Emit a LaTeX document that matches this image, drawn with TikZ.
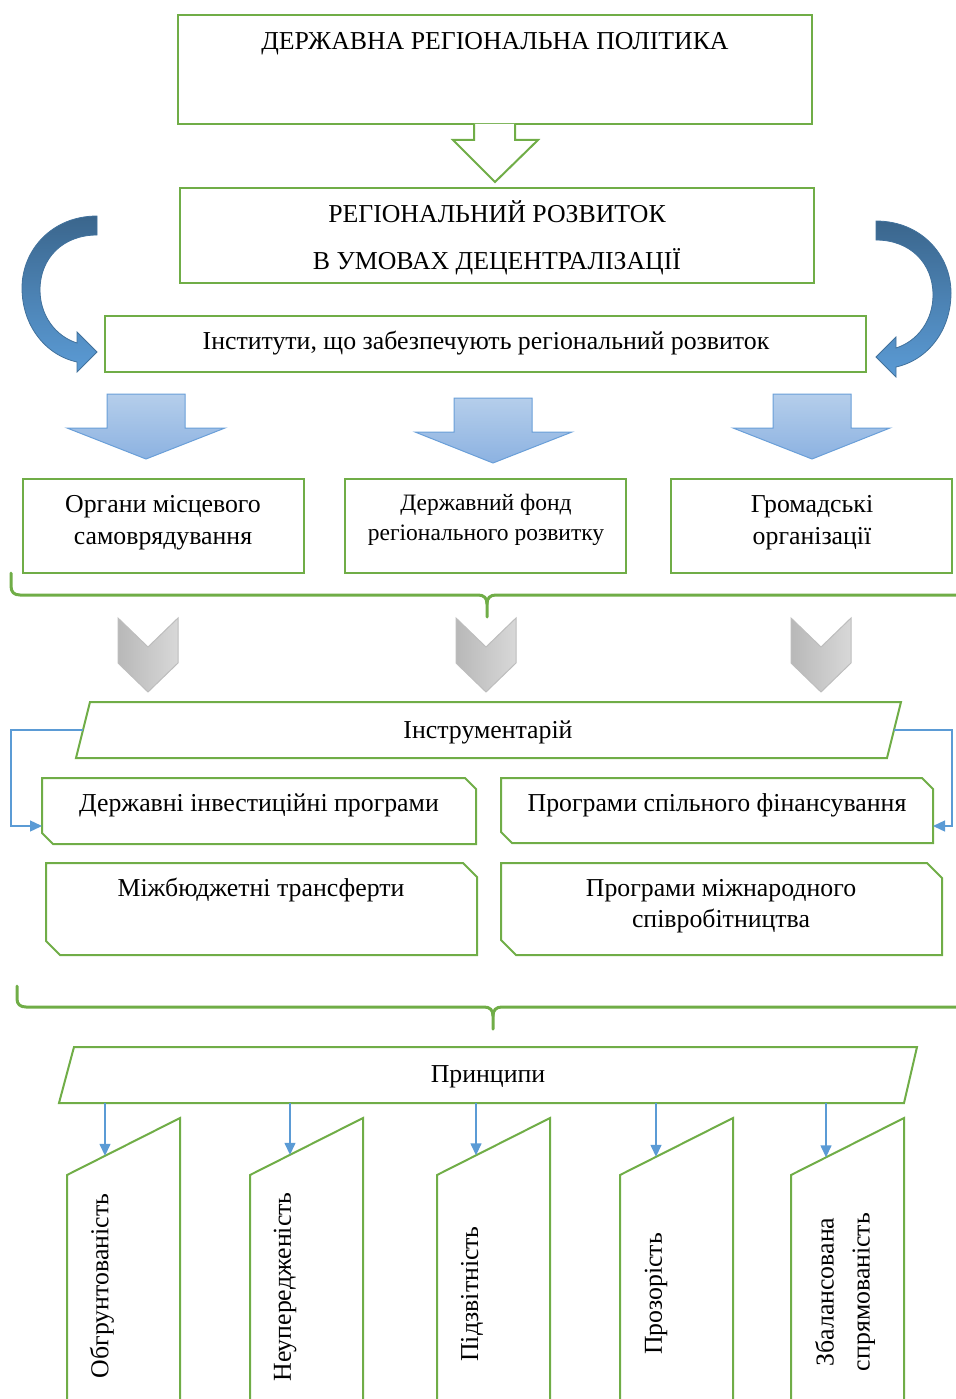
\documentclass[tikz,border=0pt]{standalone}
\usepackage{fontspec}
\setmainfont{Liberation Serif}
\usetikzlibrary{arrows.meta}
\definecolor{grn}{HTML}{70AD47}
\definecolor{cnblue}{HTML}{5B9BD5}
\definecolor{darkB}{HTML}{41719C}
\definecolor{midB}{HTML}{5B9BD5}
\definecolor{lightTop}{HTML}{B5CEEB}
\definecolor{lightBot}{HTML}{8CB2E1}
\definecolor{arrEdge}{HTML}{6A9FD8}
\definecolor{grayL}{HTML}{B8B8B8}
\definecolor{grayR}{HTML}{D8D8D8}
\definecolor{grayE}{HTML}{BDBDBD}
\tikzset{
  gbox/.style={draw=grn, line width=2pt, line join=miter},
  txt/.style={font=\fontsize{25.8}{30}\selectfont, align=center, inner sep=0pt, text=black},
  cn/.style={draw=cnblue, line width=1.4pt, -{Triangle[length=12pt,width=11pt]}},
  gbrace/.style={draw=grn, line width=3pt, line cap=round, line join=round},
  blockarrow/.style={draw=arrEdge, line width=1pt, top color=lightTop, bottom color=lightBot},
  chevron/.style={draw=grayE, line width=1pt, left color=grayL, right color=grayR},
  curvedarrow/.style={draw=darkB, line width=0.8pt, top color=darkB!90!black, bottom color=midB, middle color=darkB!60!midB}
}
\begin{document}
\begin{tikzpicture}[x=1pt,y=-1pt]
\useasboundingbox (0,0) rectangle (955,1399);

% top box and hollow arrow
\draw[gbox] (178,15) rectangle (812,124);
\node[txt] (t1) at (495,44) {ДЕРЖАВНА РЕГІОНАЛЬНА ПОЛІТИКА};
\draw[gbox, fill=white] (474,124) -- (474,140) -- (453,140) -- (495,182) -- (538,140) -- (515,140) -- (515,124);

% second box
\draw[gbox] (180,188) rectangle (814,283);
\node[txt, font=\fontsize{25.8}{47}\selectfont] (t2) at (497,237.5) {РЕГІОНАЛЬНИЙ РОЗВИТОК\\В УМОВАХ ДЕЦЕНТРАЛІЗАЦІЇ};

% curved arrows
\path[curvedarrow] (97,216) .. controls (52,216) and (22,250) .. (22,288)
   .. controls (22,325) and (45,355) .. (77,362) -- (77,372) -- (97,352) -- (77,332) -- (77,343)
   .. controls (55,336) and (40,315) .. (40,290) .. controls (40,258) and (63,235) .. (97,235) -- cycle;
\begin{scope}[shift={(973,5)}, xscale=-1]
\path[curvedarrow] (97,216) .. controls (52,216) and (22,250) .. (22,288)
   .. controls (22,325) and (45,355) .. (77,362) -- (77,372) -- (97,352) -- (77,332) -- (77,343)
   .. controls (55,336) and (40,315) .. (40,290) .. controls (40,258) and (63,235) .. (97,235) -- cycle;
\end{scope}

% institutes box
\draw[gbox] (105,316) rectangle (866,372);
\node[txt] (t3) at (486,343) {Інститути, що забезпечують регіональний розвиток};

% block arrows
\path[blockarrow] (107,394) -- (185,394) -- (185,428) -- (225,428) -- (146,459) -- (67,428) -- (107,428) -- cycle;
\path[blockarrow] (454,398) -- (532,398) -- (532,432) -- (572,432) -- (493,463) -- (415,432) -- (454,432) -- cycle;
\path[blockarrow] (773,394) -- (851,394) -- (851,428) -- (890,428) -- (812,459) -- (733,428) -- (773,428) -- cycle;

% three boxes
\draw[gbox] (23,479) rectangle (304,573);
\node[txt, font=\fontsize{25.8}{32}\selectfont] (ta) at (163,523) {Органи місцевого\\самоврядування};
\draw[gbox] (345,479) rectangle (626,573);
\node[txt, font=\fontsize{23.5}{30}\selectfont] (tb) at (486,520) {Державний фонд\\регіонального розвитку};
\draw[gbox] (671,479) rectangle (952,573);
\node[txt, font=\fontsize{25.8}{32}\selectfont] (tc) at (812,523) {Громадські\\організації};

% brace 1
\draw[gbrace] (11,573) -- (11,586) .. controls (11,592) and (14,595) .. (20,595) -- (478,595)
   .. controls (484,595) and (487,598) .. (487,604) -- (487,617);
\draw[gbrace] (487,604) .. controls (487,598) and (490,595) .. (496,595) -- (960,595);

% chevrons
\path[chevron] (118,618) -- (148,647) -- (178,618) -- (178,663) -- (148,692) -- (118,663) -- cycle;
\path[chevron] (456,618) -- (486,647) -- (516,618) -- (516,663) -- (486,692) -- (456,663) -- cycle;
\path[chevron] (791,618) -- (821,647) -- (851,618) -- (851,663) -- (821,692) -- (791,663) -- cycle;

% instruments
\draw[gbox] (90,702) -- (901,702) -- (887,758) -- (76,758) -- cycle;
\node[txt] (ti) at (488,732) {Інструментарій};
\coordinate (instL) at (83,730);
\coordinate (instR) at (894,730);

\draw[gbox] (42,778) -- (465,778) -- (476,789) -- (476,844) -- (53,844) -- (42,833) -- cycle;
\node[txt] (td) at (259,805) {Державні інвестиційні програми};
\coordinate (dIn) at (42,826);
\draw[gbox] (501,778) -- (922,778) -- (933,789) -- (933,843) -- (512,843) -- (501,832) -- cycle;
\node[txt] (te) at (717,805) {Програми спільного фінансування};
\coordinate (eIn) at (933,826);
\draw[gbox] (46,863) -- (463,863) -- (477,877) -- (477,955) -- (60,955) -- (46,941) -- cycle;
\node[txt] (tf) at (261,890) {Міжбюджетні трансферти};
\draw[gbox] (501,863) -- (927,863) -- (942,878) -- (942,955) -- (516,955) -- (501,940) -- cycle;
\node[txt, font=\fontsize{25.8}{31}\selectfont] (tg) at (721,906) {Програми міжнародного\\співробітництва};

\coordinate (lbend) at (11,730);
\coordinate (rbend) at (952,730);
\draw[cn] (instL) -- (lbend) |- (dIn);
\draw[cn] (instR) -- (rbend) |- (eIn);

% brace 2
\draw[gbrace] (17,986) -- (17,999) .. controls (17,1004) and (20,1007) .. (26,1007) -- (484,1007)
   .. controls (490,1007) and (493,1010) .. (493,1016) -- (493,1029);
\draw[gbrace] (493,1016) .. controls (493,1010) and (496,1007) .. (502,1007) -- (960,1007);

% principles
\draw[gbox] (74,1047) -- (917,1047) -- (904,1103) -- (59,1103) -- cycle;
\node[txt] (tp) at (488,1077) {Принципи};

\foreach \L/\n in {67/1,250/2,437/3,620/4,791/5}{
  \draw[gbox] (\L,1405) -- (\L,1175) -- ({\L+113},1118) -- ({\L+113},1405);
}
\node[txt, rotate=90] (p1) at (102,1286) {Обгрунтованість};
\node[txt, rotate=90] (p2) at (285,1287) {Неупередженість};
\node[txt, rotate=90] (p3) at (472,1294) {Підзвітність};
\node[txt, rotate=90] (p4) at (656,1294) {Прозорість};
\node[txt, rotate=90, font=\fontsize{25.8}{36}\selectfont] (p5) at (845,1292) {Збалансована\\спрямованість};

\foreach \x/\y/\n in {105/1155.8/1,290/1154.8/2,476/1155.3/3,656/1156.8/4,826/1157.3/5}{
  \coordinate (ps\n) at (\x,1103);
  \coordinate (pe\n) at (\x,\y);
  \draw[cn] (ps\n) -- (pe\n);
}
\end{tikzpicture}
\end{document}
